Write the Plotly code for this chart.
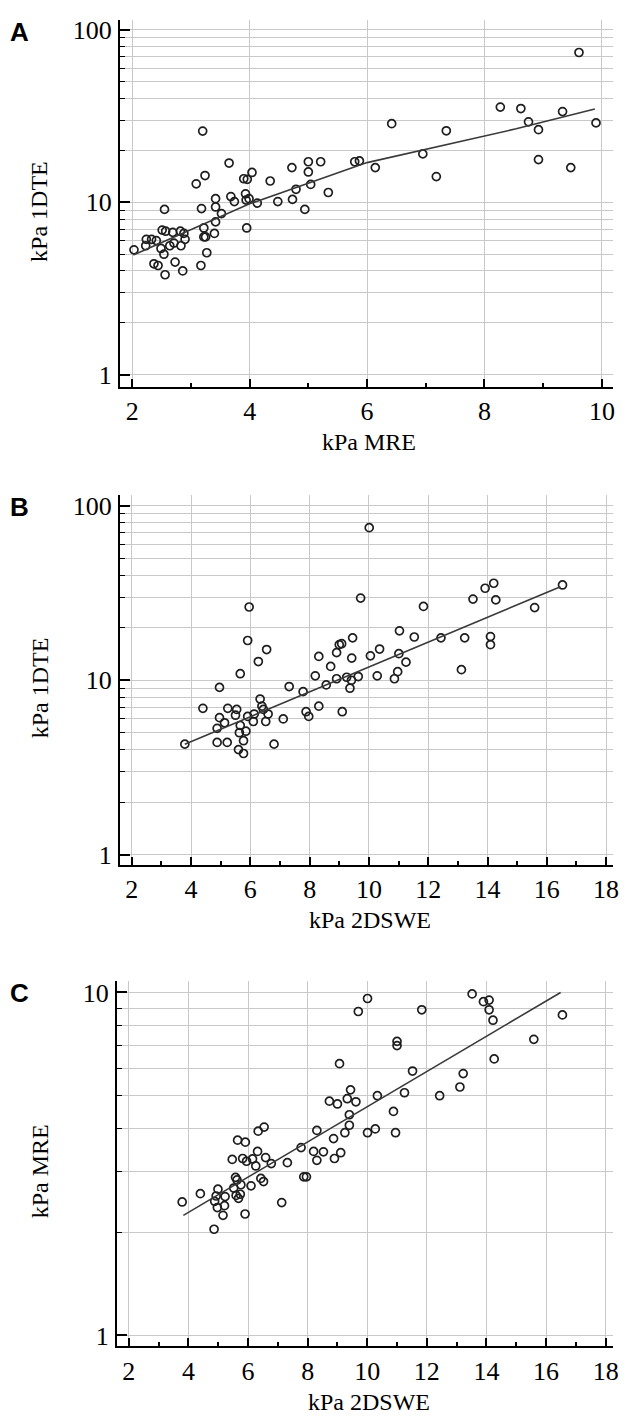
import plotly.graph_objects as go

# the page body adds an 8px margin, so the figure is drawn 8px in from the top-left corner
OFF = 8
W, H = 627 - 2 * OFF, 1427 - 2 * OFF

# panel A: MRE vs 1DTE
a_x = [3.20, 3.65, 3.24, 3.09, 3.90, 3.96, 4.04, 4.35, 4.72, 5.00, 5.00, 4.79, 3.42, 3.68, 3.74,
       3.93, 3.94, 3.99, 4.13, 4.48, 4.73, 4.94, 2.55, 3.18, 3.42, 3.52, 3.42, 3.22, 3.95, 2.51,
       2.57, 2.69, 2.82, 2.88, 3.40, 3.22, 3.25, 2.90, 2.24, 2.33, 2.41, 2.23, 2.49, 2.64, 2.71,
       2.83, 2.03, 2.54, 3.27, 2.37, 2.44, 2.73, 3.17, 2.86, 2.56,
       8.27, 6.42, 7.35, 6.95, 7.18, 5.79, 5.87, 6.14, 5.21, 5.04, 5.34,
       9.61, 8.62, 8.75, 9.33, 8.92, 9.90, 8.92, 9.47]
a_y = [25.9, 16.9, 14.3, 12.8, 13.7, 13.6, 14.9, 13.3, 15.9, 17.2, 15.0, 11.9, 10.5, 10.8, 10.1,
       11.2, 10.3, 10.5, 9.9, 10.1, 10.4, 9.1, 9.1, 9.2, 9.4, 8.6, 7.7, 7.1, 7.1, 6.9,
       6.8, 6.7, 6.8, 6.6, 6.6, 6.3, 6.3, 6.1, 6.1, 6.1, 6.0, 5.6, 5.4, 5.6, 5.8,
       5.6, 5.3, 5.0, 5.1, 4.4, 4.3, 4.5, 4.3, 4.0, 3.8,
       35.7, 28.6, 26.0, 19.1, 14.1, 17.2, 17.4, 15.9, 17.2, 12.7, 11.4,
       74.0, 35.0, 29.3, 33.6, 26.4, 28.9, 17.7, 15.9]
a_fit_x = [2.02, 4.0, 6.0, 8.54, 9.88]
a_fit_y = [4.95, 9.8, 17.0, 26.7, 34.8]

# panel B: 2DSWE vs 1DTE
b_x = [5.96, 5.91, 6.55, 6.27, 5.66, 4.96, 4.40, 5.24, 5.54, 4.96, 4.88, 5.13, 5.50, 5.66, 5.91,
       6.13, 6.10, 6.33, 6.39, 6.44, 6.60, 6.52, 5.63, 5.85, 5.77, 4.88, 5.22, 5.60, 5.77, 3.79,
       6.80, 7.11, 7.31, 7.78, 7.88, 7.97, 8.31, 8.56, 8.19, 8.71, 8.31, 8.91, 9.00, 9.08, 9.45,
       9.42, 8.91, 9.25, 9.36, 9.41, 9.10,
       10.01, 9.72, 11.84, 13.51, 13.92, 14.21, 14.28, 11.03, 11.53, 12.43, 13.23, 14.10, 14.10,
       10.05, 10.36, 11.01, 11.25, 10.97, 10.86, 10.28, 9.64, 13.12, 16.53, 15.59]
b_y = [26.3, 16.9, 15.0, 12.8, 10.9, 9.1, 6.9, 6.9, 6.8, 6.1, 5.3, 5.7, 6.3, 5.5, 6.2,
       6.4, 5.8, 7.8, 7.1, 6.8, 6.4, 5.8, 5.0, 5.1, 4.5, 4.4, 4.4, 4.0, 3.8, 4.3,
       4.3, 6.0, 9.2, 8.6, 6.6, 6.2, 7.1, 9.4, 10.6, 12.0, 13.7, 14.4, 16.0, 16.2, 17.5,
       13.4, 10.2, 10.4, 9.0, 10.0, 6.6,
       75.0, 29.6, 26.5, 29.2, 33.7, 36.0, 28.9, 19.2, 17.7, 17.5, 17.5, 17.8, 16.0,
       13.8, 15.1, 14.2, 12.7, 11.2, 10.2, 10.6, 10.5, 11.5, 35.2, 26.1]
b_fit_x = [3.79, 16.46]
b_fit_y = [4.3, 34.4]

# panel C: 2DSWE vs MRE
c_x = [8.73, 9.00, 6.54, 6.34, 5.65, 5.91, 8.31, 8.87, 7.78, 8.20, 8.53, 9.11, 8.90, 8.31, 6.32,
       6.59, 5.47, 5.82, 5.95, 6.15, 6.78, 7.32, 6.26, 5.58, 5.63, 6.43, 6.52, 7.87, 7.96, 6.10,
       5.76, 4.99, 5.52, 4.40, 4.93, 5.23, 5.60, 5.74, 5.68, 3.79, 4.88, 5.21, 4.97, 7.13, 5.90,
       5.16, 4.86,
       13.52, 10.01, 9.70, 11.83, 13.90, 14.09, 14.09, 14.22, 11.00, 11.00, 14.26, 9.07, 11.52,
       13.22, 13.11, 12.43, 11.25, 10.34, 9.44, 9.33, 9.62, 10.88, 9.40, 9.40, 9.25, 10.01, 10.27,
       10.95, 16.55, 15.59]
c_y = [4.82, 4.73, 4.05, 3.94, 3.71, 3.66, 3.96, 3.75, 3.53, 3.44, 3.43, 3.41, 3.28, 3.24, 3.44,
       3.30, 3.26, 3.28, 3.22, 3.27, 3.17, 3.19, 3.12, 2.89, 2.84, 2.87, 2.81, 2.90, 2.90, 2.73,
       2.75, 2.67, 2.69, 2.59, 2.55, 2.54, 2.56, 2.58, 2.51, 2.45, 2.46, 2.39, 2.36, 2.44, 2.26,
       2.24, 2.04,
       9.9, 9.6, 8.8, 8.9, 9.4, 9.5, 8.9, 8.3, 7.2, 7.0, 6.4, 6.2, 5.9,
       5.8, 5.3, 5.0, 5.1, 5.0, 5.2, 4.9, 4.8, 4.5, 4.4, 4.1, 3.9, 3.9, 4.0,
       3.9, 8.6, 7.3]
c_fit_x = [3.83, 16.49]
c_fit_y = [2.24, 10.0]

panels = [
    # letter, xs, ys, fit x, fit y, x title, y title, x ticks, y ticks, x range, y range (log), box in page px
    ("A", a_x, a_y, a_fit_x, a_fit_y, "kPa MRE", "kPa 1DTE", [2, 4, 6, 8, 10], [1, 10, 100],
     [1.79, 10.24], [-0.069, 2.058], (121, 622, 16, 385)),
    ("B", b_x, b_y, b_fit_x, b_fit_y, "kPa 2DSWE", "kPa 1DTE", list(range(2, 19, 2)), [1, 10, 100],
     [1.6, 18.4], [-0.057, 2.063], (121, 624, 494, 866)),
    ("C", c_x, c_y, c_fit_x, c_fit_y, "kPa 2DSWE", "kPa MRE", list(range(2, 19, 2)), [1, 10],
     [1.6, 18.48], [-0.032, 1.034], (118, 626, 983, 1351)),
]

serif = "Liberation Serif"
grid = "#c9c9c9"


def px(x):
    return (x - OFF) / W


def py(y):
    return 1 - (y - OFF) / H


fig = go.Figure()
annotations = []

for i, (letter, xs, ys, fx, fy, xt, yt, xticks, yticks, xr, yr, box) in enumerate(panels):
    n = "" if i == 0 else str(i + 1)
    x0, x1, y0, y1 = box
    xminor = [v for v in range(2, int(xr[1]) + 1) if v not in xticks]
    yminor = []
    for dec in yticks[:-1]:
        yminor += [dec * k for k in range(2, 10)]

    # clip the right edge at the figure border and shorten the range to match
    right = min(x1, OFF + W)
    xr_used = [xr[0], xr[0] + (xr[1] - xr[0]) * (right - x0) / (x1 - x0)]

    fig.add_trace(go.Scatter(x=xs, y=ys, mode="markers", xaxis="x" + n, yaxis="y" + n,
                             marker=dict(symbol="circle-open", size=8, color="#1e1e1e",
                                         line=dict(width=1.7, color="#1e1e1e")),
                             showlegend=False))
    fig.add_trace(go.Scatter(x=fx, y=fy, mode="lines", xaxis="x" + n, yaxis="y" + n,
                             line=dict(color="#3a3a3a", width=1.6), showlegend=False))

    fig.update_layout(**{
        "xaxis" + n: dict(
            domain=[px(x0), px(right)], anchor="y" + n, range=xr_used,
            tickmode="array", tickvals=xticks, ticks="inside", ticklen=8, tickwidth=2,
            tickcolor="black", showline=True, linecolor="black", linewidth=2,
            showgrid=True, gridcolor=grid, gridwidth=1, zeroline=False,
            tickfont=dict(family=serif, size=26, color="black"), ticklabelstandoff=0,
            ticklabeloverflow="allow",
            minor=dict(tickmode="array", tickvals=xminor, ticks="inside", ticklen=4,
                       tickwidth=1.5, tickcolor="black", showgrid=False),
        ),
        "yaxis" + n: dict(
            domain=[py(y1), py(y0)], anchor="x" + n, type="log", range=yr,
            tickmode="array", tickvals=yticks, ticktext=[str(v) for v in yticks],
            ticks="inside", ticklen=10, tickwidth=2, tickcolor="black",
            showline=True, linecolor="black", linewidth=2,
            showgrid=True, gridcolor=grid, gridwidth=1, zeroline=False,
            tickfont=dict(family=serif, size=26, color="black"), ticklabelstandoff=1,
            ticklabeloverflow="allow",
            minor=dict(tickmode="array", tickvals=yminor, ticks="inside", ticklen=5,
                       tickwidth=1, tickcolor="black", showgrid=True, gridcolor=grid,
                       gridwidth=1),
        ),
    })

    # panel letter and axis titles
    annotations.append(dict(text="<b>%s</b>" % letter, x=px(20), y=py(y0 + 12),
                            xanchor="center", yanchor="middle",
                            xref="paper", yref="paper", showarrow=False,
                            font=dict(family="Liberation Sans", size=26, color="black")))
    title_y = min(y1 + 56, 1407)
    annotations.append(dict(text=xt, x=px((x0 + x1) / 2 + 1), y=py(title_y),
                            xanchor="center", yanchor="middle",
                            xref="paper", yref="paper", showarrow=False,
                            font=dict(family=serif, size=24, color="black")))
    annotations.append(dict(text=yt, x=px(40), y=py((y0 + y1) / 2 + 8),
                            xanchor="center", yanchor="middle",
                            xref="paper", yref="paper", showarrow=False, textangle=-90,
                            font=dict(family=serif, size=24, color="black")))

fig.update_layout(
    width=W, height=H,
    margin=dict(l=0, r=0, t=0, b=0),
    font=dict(family=serif, color="black"),
    paper_bgcolor="white", plot_bgcolor="white",
    annotations=annotations,
)

fig.write_html("out.html")
